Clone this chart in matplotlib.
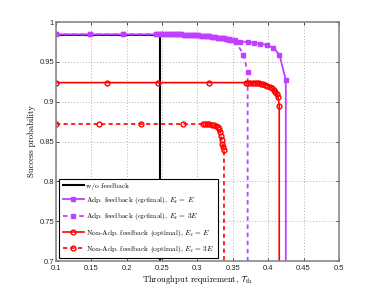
import matplotlib
matplotlib.use("Agg")
import matplotlib.pyplot as plt

plt.rcParams["mathtext.fontset"] = "cm"
plt.rcParams["axes.formatter.use_mathtext"] = True

# w/o feedback
wo_x = [0.100, 0.247, 0.247]
wo_y = [0.984, 0.984, 0.0]

# Adaptive feedback, E_f = E
adp1_x = [0.100, 0.148, 0.195, 0.241, 0.245, 0.249, 0.253, 0.257, 0.261, 0.265,
          0.269, 0.273, 0.277, 0.281, 0.285, 0.289, 0.293, 0.297, 0.301, 0.305,
          0.309, 0.313, 0.317, 0.321, 0.325, 0.329, 0.333, 0.337, 0.341, 0.345,
          0.349, 0.353, 0.360, 0.372, 0.380, 0.389, 0.398, 0.407, 0.416, 0.425,
          0.425]
adp1_y = [0.9845, 0.9845, 0.9845, 0.9845, 0.9845, 0.9845, 0.9845, 0.9845, 0.9845, 0.9845,
          0.9845, 0.9845, 0.9844, 0.9843, 0.9842, 0.9840, 0.9838, 0.9836, 0.9833, 0.9830,
          0.9827, 0.9823, 0.9819, 0.9815, 0.9810, 0.9805, 0.9800, 0.9795, 0.9789, 0.9783,
          0.9777, 0.9770, 0.9755, 0.9750, 0.9740, 0.9730, 0.9710, 0.9680, 0.9590, 0.9270,
          0.0]

# Adaptive feedback, E_f = 3E
adp3_x = [0.100, 0.148, 0.195, 0.241, 0.245, 0.249, 0.253, 0.257, 0.261, 0.265,
          0.269, 0.273, 0.277, 0.281, 0.285, 0.289, 0.293, 0.297, 0.301, 0.305,
          0.309, 0.313, 0.317, 0.321, 0.325, 0.329, 0.333, 0.337, 0.341, 0.345,
          0.349, 0.355, 0.365, 0.371, 0.371]
adp3_y = [0.9845, 0.9845, 0.9845, 0.9845, 0.9845, 0.9845, 0.9845, 0.9845, 0.9845, 0.9845,
          0.9845, 0.9845, 0.9844, 0.9843, 0.9842, 0.9840, 0.9838, 0.9836, 0.9833, 0.9830,
          0.9827, 0.9823, 0.9819, 0.9815, 0.9810, 0.9805, 0.9800, 0.9795, 0.9789, 0.9780,
          0.9770, 0.9745, 0.9590, 0.9376, 0.0]

# Non-adaptive feedback, E_f = E
nadp1_x = [0.100, 0.1725, 0.2446, 0.3167, 0.369, 0.372, 0.375, 0.378, 0.381, 0.384,
           0.387, 0.390, 0.393, 0.396, 0.399, 0.402, 0.405, 0.408, 0.410, 0.412,
           0.414, 0.4157, 0.4157]
nadp1_y = [0.924, 0.924, 0.924, 0.924, 0.924, 0.924, 0.924, 0.924, 0.9238, 0.9236,
           0.9232, 0.9227, 0.9220, 0.9212, 0.9203, 0.9190, 0.9175, 0.9152, 0.9124, 0.9095,
           0.9060, 0.8950, 0.0]

# Non-adaptive feedback, E_f = 3E
nadp3_x = [0.100, 0.160, 0.220, 0.280, 0.308, 0.311, 0.314, 0.317, 0.320, 0.323,
           0.326, 0.329, 0.331, 0.332, 0.333, 0.334, 0.335, 0.3365, 0.3375, 0.3375]
nadp3_y = [0.872, 0.872, 0.872, 0.872, 0.872, 0.872, 0.8718, 0.8715, 0.8710, 0.8703,
           0.8695, 0.8685, 0.8660, 0.8620, 0.8575, 0.8520, 0.8475, 0.8430, 0.8390, 0.0]

purple = "#c040ff"
red = "#ff0000"

fig = plt.figure(figsize=(3.74, 2.94), dpi=100)
ax = fig.add_axes([0.150, 0.112, 0.756, 0.813])

ax.plot(wo_x, wo_y, color="black", lw=1.5, label="w/o feedback")
ax.plot(adp1_x, adp1_y, color=purple, lw=1.3, marker="s", ms=3.2,
        mfc=purple, mec=purple, label=r"Adp. feedback (optimal), $E_{\rm f}\,=\,E$")
ax.plot(adp3_x, adp3_y, color=purple, lw=1.3, ls=(0, (2.5, 2)), marker="s", ms=3.2,
        mfc=purple, mec=purple, label=r"Adp. feedback (optimal), $E_{\rm f}\,=\,3E$")
ax.plot(nadp1_x, nadp1_y, color=red, lw=1.2, marker="o", ms=3.5,
        mfc="none", mec=red, mew=1.0,
        label=r"Non-Adp. feedback (optimal), $E_{\rm f}\,=\,E$")
ax.plot(nadp3_x, nadp3_y, color=red, lw=1.2, ls=(0, (2.5, 2)), marker="o", ms=3.5,
        mfc="none", mec=red, mew=1.0,
        label=r"Non-Adp. feedback (optimal), $E_{\rm f}\,=\,3E$")

ax.set_xlim(0.1, 0.5)
ax.set_ylim(0.7, 1.0)
xt = [0.1, 0.15, 0.2, 0.25, 0.3, 0.35, 0.4, 0.45, 0.5]
yt = [0.7, 0.75, 0.8, 0.85, 0.9, 0.95, 1.0]
ax.set_xticks(xt)
ax.set_xticklabels(["0.1", "0.15", "0.2", "0.25", "0.3", "0.35", "0.4", "0.45", "0.5"],
                   fontfamily="Liberation Sans", fontsize=5.5)
ax.set_yticks(yt)
ax.set_yticklabels(["0.7", "0.75", "0.8", "0.85", "0.9", "0.95", "1"],
                   fontfamily="Liberation Sans", fontsize=5.5)
ax.tick_params(direction="in", length=2.5, width=0.6, top=True, right=True,
               colors="0.15")
ax.tick_params(axis="x", pad=2.5)
ax.tick_params(axis="y", pad=1.5)
ax.grid(True, ls=(0, (1, 2.5)), color="0.6", lw=0.6)
for s in ax.spines.values():
    s.set_color("0.5")
    s.set_linewidth(1.1)

ax.set_xlabel(r"Throughput requirement, $\mathcal{T}_{\rm th}$", fontfamily="cmr10",
              fontsize=6.2, labelpad=1)
ax.set_ylabel("Success probability", fontfamily="cmr10", fontsize=6.2, labelpad=2)

leg = ax.legend(loc="lower left", bbox_to_anchor=(0.012, 0.012), borderaxespad=0,
                prop={"family": "cmr10", "size": 5.3}, fancybox=False,
                edgecolor="black", framealpha=1, handlelength=2.9, handletextpad=0.3,
                labelspacing=0.72, borderpad=0.45)
leg.get_frame().set_linewidth(0.8)

fig.savefig("out.png", dpi=100)
